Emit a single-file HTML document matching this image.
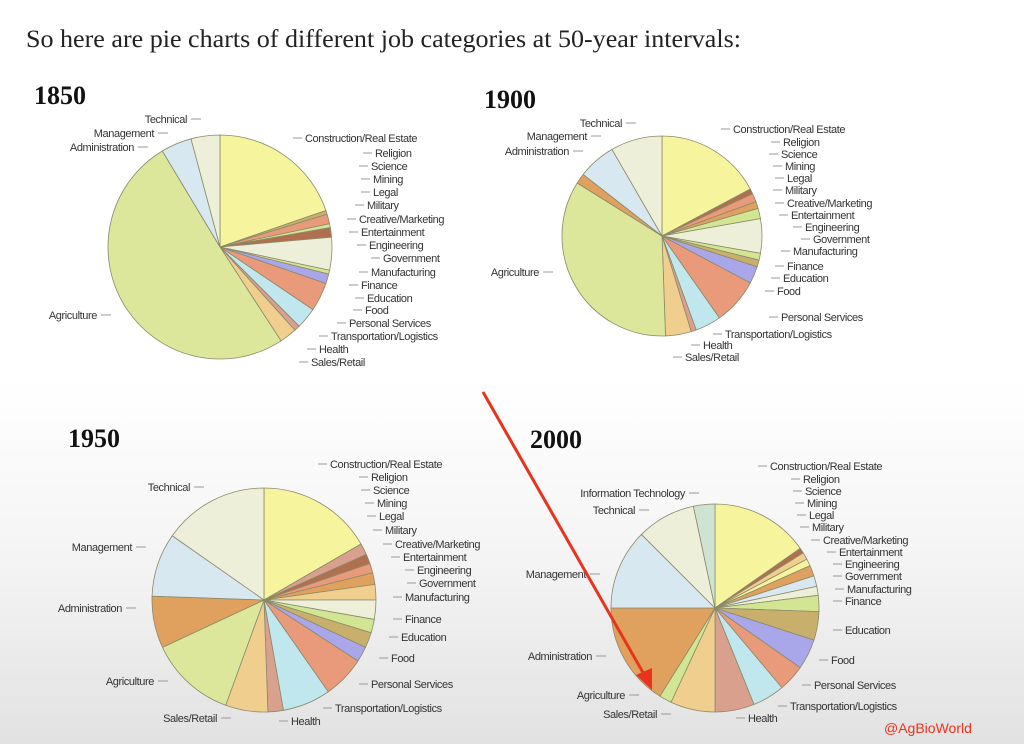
<!DOCTYPE html>
<html><head><meta charset="utf-8"><style>
html,body{margin:0;padding:0}
body{width:1024px;height:744px;overflow:hidden;background:linear-gradient(#fff 0,#fff 380px,#f4f4f4 560px,#e2e2e2 744px);font-family:"Liberation Sans",sans-serif}
svg{position:absolute;left:0;top:0}
</style></head><body>
<svg id="s" width="1024" height="744" xmlns="http://www.w3.org/2000/svg">
<text x="26" y="47" font-family="Liberation Serif,serif" font-size="25" fill="#222" textLength="715" lengthAdjust="spacingAndGlyphs">So here are pie charts of different job categories at 50-year intervals:</text>
<g font-family="Liberation Serif,serif" font-weight="bold" font-size="26" fill="#111">
<text x="34" y="104">1850</text><text x="484" y="108">1900</text>
<text x="68" y="447">1950</text><text x="530" y="448">2000</text></g>
<g id="pies"></g>
<g id="labs" font-size="11" fill="#333" font-family="Liberation Sans,sans-serif" letter-spacing="-0.4"></g>
<line x1="483" y1="392" x2="645" y2="676" stroke="#e8341c" stroke-width="3"/>
<polygon points="652,690 636,675 652,668" fill="#e8341c"/>
<text x="884" y="733" font-size="14" fill="#e8341c">@AgBioWorld</text>
</svg>
<script>
var C={y:"#f6f49c",a:"#dde79c",lb:"#d8e8f0",be:"#eeefd8",o:"#e89a7a",p:"#aaa6ea",c:"#c0e7ee",s:"#f0cf8e",ad:"#e0a15e",ol:"#c8b06c",h:"#d9a08e",g:"#d2e592",br:"#b07050",it:"#cfe3d2"};
var P=[
[220,247,112,[[0,71,"y"],[71,73,"ol"],[73,78,"o"],[78,80,"g"],[80,85,"br"],[85,102,"be"],[102,104,"g"],[104,109,"p"],[109,124,"o"],[124,135,"c"],[135,138,"h"],[138,147,"s"],[147,329,"a"],[329,345,"lb"],[345,360,"be"]]],
[662,236,100,[[0,62,"y"],[62,65,"br"],[65,70,"o"],[70,74,"ad"],[74,80,"g"],[80,100,"be"],[100,104,"g"],[104,108,"ol"],[108,118,"p"],[118,145,"o"],[145,160,"c"],[160,163,"h"],[163,178,"s"],[178,302,"a"],[302,308,"ad"],[308,330,"lb"],[330,360,"be"]]],
[264,600,112,[[0,60,"y"],[60,66,"h"],[66,71,"br"],[71,76,"o"],[76,82,"ad"],[82,90,"s"],[90,100,"be"],[100,107,"g"],[107,115,"ol"],[115,123,"p"],[123,145,"o"],[145,170,"c"],[170,178,"h"],[178,200,"s"],[200,245,"a"],[245,272,"ad"],[272,305,"lb"],[305,360,"be"]]],
[715,608,104,[[0,55,"y"],[55,58,"br"],[58,62,"s"],[62,66,"y"],[66,72,"ad"],[72,78,"lb"],[78,83,"be"],[83,92,"g"],[92,108,"ol"],[108,125,"p"],[125,140,"o"],[140,158,"c"],[158,180,"h"],[180,205,"s"],[205,212,"g"],[212,270,"ad"],[270,315,"lb"],[315,348,"be"],[348,360,"it"]]]];
var ns="http://www.w3.org/2000/svg",g=document.getElementById("pies");
function pt(cx,cy,r,a){a=(a-90)*Math.PI/180;return [cx+r*Math.cos(a),cy+r*Math.sin(a)];}
P.forEach(function(p){p[3].forEach(function(s){var a=pt(p[0],p[1],p[2],s[0]),b=pt(p[0],p[1],p[2],s[1]);
var e=document.createElementNS(ns,"path");e.setAttribute("d","M"+p[0]+","+p[1]+"L"+a[0]+","+a[1]+"A"+p[2]+","+p[2]+" 0 "+((s[1]-s[0])>180?1:0)+" 1 "+b[0]+","+b[1]+"Z");
e.setAttribute("fill",C[s[2]]);e.setAttribute("stroke","#8a8a6a");e.setAttribute("stroke-width","0.8");g.appendChild(e);});});
var R=["Construction/Real Estate","Religion","Science","Mining","Legal","Military","Creative/Marketing","Entertainment","Engineering","Government","Manufacturing","Finance","Education","Food","Personal Services","Transportation/Logistics","Health","Sales/Retail"];
var L=[
[[305,142],[375,157],[371,170],[373,183],[373,196],[367,209],[359,223],[361,236],[369,249],[383,262],[371,276],[361,289],[367,302],[365,314],[349,327],[331,340],[319,353],[311,366]],
[[733,133],[783,146],[781,158],[785,170],[787,182],[785,194],[787,207],[791,219],[805,231],[813,243],[793,255],[787,270],[783,282],[777,295],[781,321],[725,338],[703,349],[685,361]],
[[330,468],[371,481],[373,494],[377,507],[379,520],[385,534],[395,548],[403,561],[417,574],[419,587],[405,601],[405,623],[401,641],[391,662],[371,688],[335,712],[291,725]],
[[770,470],[803,483],[805,495],[807,507],[809,519],[812,531],[823,544],[839,556],[845,568],[845,580],[847,593],[845,605],[845,634],[831,664],[814,689],[790,710],[748,722]]];
var LL=[
[["Technical",187,123],["Management",154,137],["Administration",134,151],["Agriculture",97,319]],
[["Technical",622,127],["Management",587,140],["Administration",569,155],["Agriculture",539,276]],
[["Technical",190,491],["Management",132,551],["Administration",122,612],["Agriculture",154,685],["Sales/Retail",217,722]],
[["Information Technology",685,497],["Technical",635,514],["Management",586,578],["Administration",592,660],["Agriculture",625,699],["Sales/Retail",657,718]]];
var lg=document.getElementById("labs");
function t(s,x,y,anc){var e=document.createElementNS(ns,"text");e.setAttribute("x",x);e.setAttribute("y",y);if(anc)e.setAttribute("text-anchor",anc);e.textContent=s;lg.appendChild(e);}
function ln(x1,y1,x2,y2){var e=document.createElementNS(ns,"line");e.setAttribute("x1",x1);e.setAttribute("y1",y1);e.setAttribute("x2",x2);e.setAttribute("y2",y2);e.setAttribute("stroke","#999");e.setAttribute("stroke-width","1");lg.appendChild(e);}
L.forEach(function(arr,i){arr.forEach(function(q,j){t(R[j],q[0],q[1]);ln(q[0]-3,q[1]-4,q[0]-12,q[1]-4);});});
LL.forEach(function(arr){arr.forEach(function(q){t(q[0],q[1],q[2],"end");ln(q[1]+4,q[2]-4,q[1]+14,q[2]-4);});});
</script>
</body></html>
